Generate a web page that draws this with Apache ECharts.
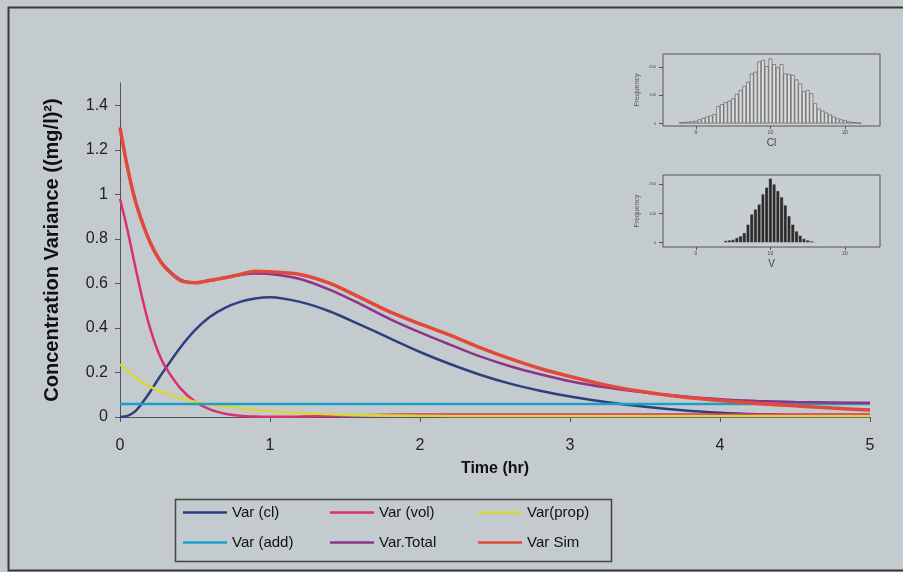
<!DOCTYPE html>
<html>
<head>
<meta charset="utf-8">
<script src="https://cdn.jsdelivr.net/npm/echarts@6/dist/echarts.min.js"></script>
<style>
  html, body { margin: 0; padding: 0; background: #c4cbcf; }
  #main { width: 903px; height: 572px; }
</style>
</head>
<body>
<div id="main"></div>
<script>
// 时间点 (hr)
var timeHr = [0, 0.05, 0.1, 0.15, 0.2, 0.25, 0.3, 0.4, 0.5, 0.6, 0.7, 0.8, 0.9, 1.0, 1.2, 1.4, 1.6, 1.8, 2.0, 2.2, 2.4, 2.6, 2.8, 3.0, 3.25, 3.5, 3.75, 4.0, 4.25, 4.5, 4.75, 5.0];

var varCl    = [0, 0.005, 0.025, 0.065, 0.112, 0.165, 0.215, 0.31, 0.39, 0.45, 0.49, 0.517, 0.532, 0.538, 0.517, 0.474, 0.415, 0.353, 0.292, 0.238, 0.19, 0.15, 0.118, 0.092, 0.066, 0.046, 0.03, 0.019, 0.012, 0.008, 0.006, 0.004];
var varVol   = [0.98, 0.84, 0.68, 0.53, 0.40, 0.30, 0.228, 0.131, 0.07, 0.034, 0.015, 0.006, 0.002, 0.001, 0.002, 0.005, 0.008, 0.01, 0.011, 0.011, 0.011, 0.011, 0.011, 0.011, 0.011, 0.011, 0.011, 0.011, 0.011, 0.011, 0.011, 0.011];
var varProp  = [0.236, 0.21, 0.18, 0.155, 0.136, 0.12, 0.108, 0.086, 0.069, 0.056, 0.047, 0.04, 0.032, 0.027, 0.018, 0.012, 0.009, 0.007, 0.006, 0.005, 0.005, 0.005, 0.005, 0.004, 0.004, 0.004, 0.004, 0.004, 0.004, 0.004, 0.004, 0.004];
var varAdd   = [0.058, 0.058, 0.058, 0.058, 0.058, 0.058, 0.058, 0.058, 0.058, 0.058, 0.058, 0.058, 0.058, 0.058, 0.058, 0.058, 0.058, 0.058, 0.058, 0.058, 0.058, 0.058, 0.058, 0.058, 0.058, 0.058, 0.058, 0.058, 0.058, 0.058, 0.058, 0.058];
var varTotal = [1.295, 1.12, 0.98, 0.875, 0.788, 0.722, 0.676, 0.618, 0.604, 0.612, 0.627, 0.638, 0.644, 0.642, 0.62, 0.571, 0.508, 0.44, 0.38, 0.325, 0.272, 0.228, 0.192, 0.161, 0.132, 0.11, 0.093, 0.08, 0.072, 0.067, 0.065, 0.064];
var varSim   = [1.30, 1.12, 0.975, 0.87, 0.785, 0.72, 0.672, 0.614, 0.603, 0.614, 0.625, 0.64, 0.655, 0.652, 0.64, 0.60, 0.537, 0.472, 0.418, 0.368, 0.312, 0.262, 0.218, 0.182, 0.142, 0.112, 0.09, 0.074, 0.061, 0.05, 0.04, 0.031];

var yTicks = [0, 0.2, 0.4, 0.6, 0.8, 1, 1.2, 1.4];

// 直方图 Cl
var clBins   = [-2, -1.5, -1, -0.5, 0, 0.5, 1, 1.5, 2, 2.5, 3, 3.5, 4, 4.5, 5, 5.5, 6, 6.5, 7, 7.5, 8, 8.5, 9, 9.5, 10, 10.5, 11, 11.5, 12, 12.5, 13, 13.5, 14, 14.5, 15, 15.5, 16, 16.5, 17, 17.5, 18, 18.5, 19, 19.5, 20, 20.5, 21, 21.5, 22];
var clCounts = [4, 5, 6, 7, 9, 14, 19, 24, 28, 33, 61, 68, 75, 80, 88, 104, 118, 132, 147, 176, 182, 218, 224, 202, 229, 209, 198, 209, 176, 174, 171, 155, 141, 113, 118, 106, 71, 52, 45, 38, 31, 24, 18, 14, 11, 7, 5, 4, 2];
// 直方图 V
var vBins   = [4, 4.5, 5, 5.5, 6, 6.5, 7, 7.5, 8, 8.5, 9, 9.5, 10, 10.5, 11, 11.5, 12, 12.5, 13, 13.5, 14, 14.5, 15, 15.5, 16];
var vCounts = [7, 9, 11, 17, 23, 34, 63, 98, 115, 132, 167, 190, 221, 201, 178, 157, 129, 92, 63, 40, 25, 14, 9, 6, 3];
var histXTicks = [0, 10, 20];
var histYTicks = [0, 100, 200];

var font = 'Liberation Sans, Arial, sans-serif';

function pairs(xs, ys) {
    var out = [];
    for (var i = 0; i < xs.length; i++) out.push([xs[i], ys[i]]);
    return out;
}

function lineSeries(name, data, color, width) {
    return {
        name: name, type: 'line', xAxisIndex: 0, yAxisIndex: 0,
        data: pairs(timeHr, data), smooth: 0.3, symbol: 'none',
        lineStyle: { color: color, width: width }, itemStyle: { color: color }
    };
}

function histAxisX(gridIndex, name) {
    return {
        type: 'value', gridIndex: gridIndex, min: -4.4, max: 24.7,
        name: name, nameLocation: 'middle', nameGap: 12,
        nameTextStyle: { fontFamily: font, fontSize: 10, color: '#444' },
        axisLine: { show: false, onZero: false }, splitLine: { show: false },
        axisTick: { show: true, length: 3, customValues: histXTicks, lineStyle: { color: '#555' } },
        axisLabel: { customValues: histXTicks, fontSize: 5, margin: 4, color: '#444', fontFamily: font }
    };
}

function histAxisY(gridIndex, min, max) {
    return {
        type: 'value', gridIndex: gridIndex, min: min, max: max,
        name: 'Frequency', nameLocation: 'middle', nameGap: 22,
        nameTextStyle: { fontFamily: font, fontSize: 7, color: '#555' },
        axisLine: { show: false, onZero: false }, splitLine: { show: false },
        axisTick: { show: true, length: 4, customValues: histYTicks, lineStyle: { color: '#555' } },
        axisLabel: { customValues: histYTicks, fontSize: 4, margin: 7, color: '#444', fontFamily: font }
    };
}

var chart = echarts.init(document.getElementById('main'));

var legendItems = [
    { name: 'Var (cl)', left: 183, top: 505 },
    { name: 'Var (vol)', left: 330, top: 505 },
    { name: 'Var(prop)', left: 478, top: 505 },
    { name: 'Var (add)', left: 183, top: 535 },
    { name: 'Var.Total', left: 330, top: 535 },
    { name: 'Var Sim', left: 478, top: 535 }
];

var option = {
    backgroundColor: '#c4cbcf',
    animation: false,
    textStyle: { fontFamily: font },
    grid: [
        { left: 120, right: 33, top: 83, bottom: 155 },
        { left: 663, top: 54, width: 217, height: 72, show: true, borderColor: '#555', borderWidth: 1, backgroundColor: 'rgba(255,255,255,0.08)' },
        { left: 663, top: 175, width: 217, height: 72, show: true, borderColor: '#555', borderWidth: 1, backgroundColor: 'rgba(255,255,255,0.08)' }
    ],
    legend: legendItems.map(function (it) {
        return {
            data: [it.name], left: it.left, top: it.top, padding: 0,
            icon: 'rect', itemWidth: 44, itemHeight: 2.5, selectedMode: false,
            textStyle: { fontSize: 15, color: '#111', fontFamily: font }
        };
    }),
    xAxis: [
        {
            type: 'value', gridIndex: 0, min: 0, max: 5, interval: 1,
            name: 'Time (hr)', nameLocation: 'middle', nameGap: 44,
            nameTextStyle: { fontSize: 16, fontWeight: 'bold', color: '#111', fontFamily: font },
            axisLine: { lineStyle: { color: '#555', width: 1 } },
            axisTick: { length: 5, lineStyle: { color: '#555' } },
            axisLabel: { fontSize: 16, color: '#222', margin: 21, fontFamily: font },
            splitLine: { show: false }
        },
        histAxisX(1, 'Cl'),
        histAxisX(2, 'V')
    ],
    yAxis: [
        {
            type: 'value', gridIndex: 0, min: 0, max: 1.5,
            name: 'Concentration Variance ((mg/l)²)', nameLocation: 'middle', nameGap: 58,
            nameTextStyle: { fontSize: 20, fontWeight: 'bold', color: '#111', fontFamily: font },
            axisLine: { show: true, lineStyle: { color: '#555', width: 1 } },
            axisTick: { show: true, length: 5, customValues: yTicks, lineStyle: { color: '#555' } },
            axisLabel: { customValues: yTicks, fontSize: 16, color: '#222', margin: 12, fontFamily: font },
            splitLine: { show: false }
        },
        histAxisY(1, -9, 245),
        histAxisY(2, -15, 232)
    ],
    series: [
        lineSeries('Var (cl)', varCl, '#2e3f7e', 2.5),
        lineSeries('Var (vol)', varVol, '#d8316f', 2.5),
        lineSeries('Var(prop)', varProp, '#d9d63a', 2.5),
        lineSeries('Var (add)', varAdd, '#1c9fc6', 2.5),
        lineSeries('Var.Total', varTotal, '#8c3488', 2.5),
        lineSeries('Var Sim', varSim, '#e2493a', 3.5),
        {
            type: 'bar', xAxisIndex: 1, yAxisIndex: 1, data: pairs(clBins, clCounts),
            barWidth: 3.7, itemStyle: { color: '#dcdcdc', borderColor: '#4a4a4a', borderWidth: 0.6 }
        },
        {
            type: 'bar', xAxisIndex: 2, yAxisIndex: 2, data: pairs(vBins, vCounts),
            barWidth: 3.7, itemStyle: { color: '#2b2b2b', borderColor: '#d8d8d8', borderWidth: 0.4 }
        }
    ],
    graphic: [
        {
            type: 'rect', left: 6, top: 5, z: 100,
            shape: { width: 905, height: 563 },
            style: { fill: 'none', stroke: '#3a3a3a', lineWidth: 2 }
        },
        {
            type: 'rect', left: 173, top: 497, z: 100,
            shape: { width: 436, height: 62 },
            style: { fill: 'none', stroke: '#444', lineWidth: 1.5 }
        }
    ]
};

chart.setOption(option);
</script>
</body>
</html>
